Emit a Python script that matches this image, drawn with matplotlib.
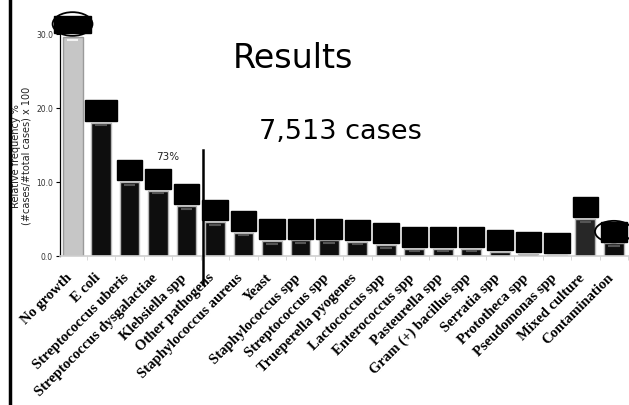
import numpy as np
import matplotlib.pyplot as plt
import matplotlib.transforms as mtransforms
from matplotlib.patches import Rectangle, Ellipse
from matplotlib.lines import Line2D

categories = ['No growth', 'E coli', 'Streptococcus uberis', 'Streptococcus dysgalactiae',
              'Klebsiella spp', 'Other pathogens', 'Staphylococcus aureus', 'Yeast',
              'Staphylococcus spp', 'Streptococcus spp', 'Trueperella pyogenes',
              'Lactococcus spp', 'Enterococcus spp', 'Pasteurella spp',
              'Gram (+) bacillus spp', 'Serratia spp', 'Prototheca spp',
              'Pseudomonas spp', 'Mixed culture', 'Contamination']
freq = [29.6, 18.0, 10.0, 8.8, 6.75, 4.6, 3.15, 2.0, 2.1, 2.1, 1.95,
        1.45, 1.0, 1.0, 1.0, 0.5, 0.23, 0.2, 5.0, 1.7]
yticks = [0.0, 10.0, 20.0, 30.0]

W, H = 629, 405
fig = plt.figure(figsize=(W / 100, H / 100), dpi=100)
ax = fig.add_axes([60 / W, (H - 256) / H, 1 - 60 / W, 222 / H])

x = np.arange(len(categories))
colors = ['#c6c6c6'] + ['#0e0e0e'] * (len(categories) - 1)
colors[categories.index('Mixed culture')] = '#272727'
edges = ['#9a9a9a'] + ['#b8b8b8'] * (len(categories) - 1)
ax.bar(x, freq, width=0.7, color=colors, edgecolor=edges, linewidth=1, zorder=2)

# little highlight near the top of each bar
for i, v in enumerate(freq):
    hc = '#f2f2f2' if i == 0 else '#555555'
    if v > 0.5:
        ax.plot([i - 0.2, i + 0.2], [v - 0.35, v - 0.35], color=hc, lw=1.5, zorder=3,
                solid_capstyle='butt')

# black boxes hiding the value labels
for i, v in enumerate(freq):
    if i == 0:
        w, bottom, h = 1.3, v + 0.5, 2.4
    elif i == 1:
        w, bottom, h = 1.12, v + 0.25, 2.8
    else:
        w, bottom, h = 0.9, v + 0.25, 2.7
    ax.add_patch(Rectangle((i - w / 2, bottom), w, h, color='black', zorder=4, clip_on=False))

ax.add_patch(Ellipse((0, freq[0] + 1.75), 1.4, 3.2, fill=False, ec='black', lw=1.3,
                     zorder=5, clip_on=False))
ax.add_patch(Ellipse((19, freq[19] + 1.6), 1.33, 2.9, fill=False, ec='black', lw=1.3,
                     zorder=5, clip_on=False))

ax.set_xlim(-0.44, 19.53)
ax.set_ylim(0, 30)
ax.set_yticks(yticks)
ax.set_yticklabels(['%.1f' % t for t in yticks], fontsize=5.5, color='#333333')
ax.tick_params(axis='y', length=3, width=0.8, pad=2)
ax.set_xticks(x)
ax.set_xticklabels(categories, rotation=45, ha='right', rotation_mode='anchor',
                   fontsize=10.5, fontweight='bold', family='Liberation Serif')
ax.tick_params(axis='x', length=0, pad=8)
shift = mtransforms.ScaledTranslation(-5 / 72, -3 / 72, fig.dpi_scale_trans)
for lab in ax.get_xticklabels():
    lab.set_transform(lab.get_transform() + shift)
ax.set_xticks(x + 0.5, minor=True)
ax.tick_params(axis='x', which='minor', length=3, color='#d0d0d0')

for s in ['top', 'right']:
    ax.spines[s].set_visible(False)
ax.spines['left'].set_linewidth(0.9)
ax.spines['bottom'].set_color('#cfcfcf')
ax.spines['bottom'].set_linewidth(1.2)

ax.set_ylabel('Relative frequency %\n(#cases/#total cases) x 100', fontsize=7,
              color='#222222', linespacing=1.1)
ax.yaxis.set_label_coords(-0.05, 0.45)

fig.text(293 / W, 1 - 58 / H, 'Results', fontsize=24, ha='center', va='center')
fig.text(340 / W, 1 - 132 / H, '7,513 cases', fontsize=19.5, ha='center', va='center')
fig.text(168 / W, 1 - 157 / H, '73%', fontsize=7.5, ha='center', va='center', color='#222222')

fig.add_artist(Line2D([203 / W, 203 / W], [1 - 150 / H, 1 - 284 / H], color='black', lw=1.8))
fig.add_artist(Line2D([10 / W, 10 / W], [0, 1], color='black', lw=2.5))

fig.savefig('out.png', dpi=100)
